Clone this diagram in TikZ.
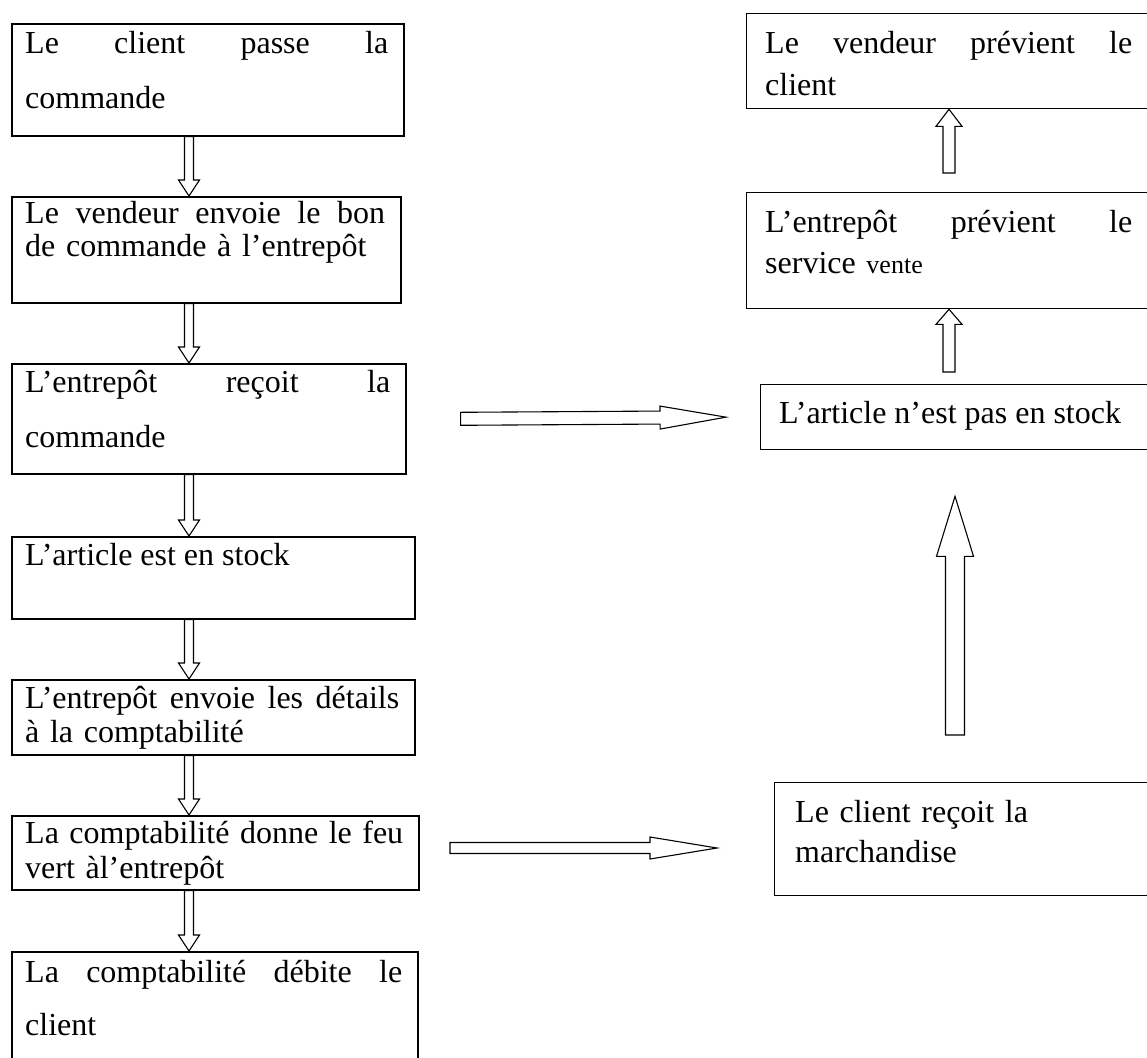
\documentclass[tikz,border=0pt]{standalone}
\usepackage{fontspec}
\setmainfont{Liberation Serif}
\usepackage{tikz}
\usetikzlibrary{calc,positioning}

\tikzset{
   box/.style={draw, rectangle, line width=1.6pt, inner sep=0pt, anchor=north west},
   rbox/.style={box, line width=1.3pt},
   txt/.style={anchor=base west, inner sep=0pt, align=left,
      font=\fontsize{32pt}{#1}\selectfont},
   % hollow block arrow: half shaft, half head, head length
   fat arrow/.style n args={3}{draw, line width=1.1pt, fill=white, line join=miter,
      to path={
         ($(\tikztostart)!#1!90:(\tikztotarget)$)
         -- ($(\tikztotarget)!#3!(\tikztostart)!#1!-90:(\tikztostart)$)
         -- ($(\tikztotarget)!#3!(\tikztostart)!#2!-90:(\tikztostart)$)
         -- (\tikztotarget)
         -- ($(\tikztotarget)!#3!(\tikztostart)!#2!90:(\tikztostart)$)
         -- ($(\tikztotarget)!#3!(\tikztostart)!#1!90:(\tikztostart)$)
         -- ($(\tikztostart)!#1!-90:(\tikztotarget)$)
         -- cycle}}
}

\begin{document}
\begin{tikzpicture}[x=1pt,y=-1pt]
        % Page frame
        \useasboundingbox (0,0) rectangle (1147,1057);
        \clip (0,0) rectangle (1147,1057);

        % Left column
        \node[box, minimum width=392pt, minimum height=112pt] (b1) at (11,23) {};
        \node[box, minimum width=389pt, minimum height=106pt] (b2) at (11,196) {};
        \node[box, minimum width=394pt, minimum height=110pt] (b3) at (11,363) {};
        \node[box, minimum width=403pt, minimum height=82pt] (b4) at (11,536) {};
        \node[box, minimum width=403pt, minimum height=75pt] (b5) at (11,679) {};
        \node[box, minimum width=407pt, minimum height=74pt] (b6) at (11,815) {};
        \node[box, minimum width=406pt, minimum height=150pt] (b7) at (11,951) {};

        \node[txt=55pt, text width=363pt] (t1) at ($(b1.north west)+(14,30)$) {Le\hfill client\hfill passe\hfill la\\commande};
        \node[txt=33pt, text width=360pt] (t2) at ($(b2.north west)+(14,27)$) {Le\hfill vendeur\hfill envoie\hfill le\hfill bon\\de commande à l’entrepôt};
        \node[txt=55pt, text width=365pt] (t3) at ($(b3.north west)+(14,29)$) {L’entrepôt\hfill reçoit\hfill la\\commande};
        \node[txt=34pt] (t4) at ($(b4.north west)+(14,29)$) {L’article est en stock};
        \node[txt=34pt, text width=374pt] (t5) at ($(b5.north west)+(14,29)$) {L’entrepôt\hfill envoie\hfill les\hfill détails\\à la comptabilité};
        \node[txt=35pt, text width=378pt] (t6) at ($(b6.north west)+(14,28)$) {La\hfill comptabilité\hfill donne\hfill le\hfill feu\\vert àl’entrepôt};
        \node[txt=53pt, text width=377pt] (t7) at ($(b7.north west)+(14,31)$) {La\hfill comptabilité\hfill débite\hfill le\\client};

        % Right column
        \node[rbox, minimum width=450pt, minimum height=95pt] (r1) at (746,13) {};
        \node[rbox, minimum width=450pt, minimum height=116pt] (r2) at (746,192) {};
        \node[rbox, minimum width=440pt, minimum height=65pt] (r3) at (760,384) {};
        \node[rbox, minimum width=430pt, minimum height=113pt] (r4) at (774,782) {};

        \node[txt=42pt, text width=367pt] (s1) at ($(r1.north west)+(19,40)$) {Le\hfill vendeur\hfill prévient\hfill le\\client};
        \node[txt=41pt, text width=367pt] (s2) at ($(r2.north west)+(19,40)$) {L’entrepôt\hfill prévient\hfill le\\service {\fontsize{26pt}{41pt}\selectfont vente}};
        \node[txt=40pt] (s3) at ($(r3.north west)+(19,39)$) {L’article n’est pas en stock};
        \node[txt=40pt, text width=340pt] (s4) at ($(r4.north west)+(21,40)$) {Le client reçoit la\\marchandise};

        % Arrow columns
        \coordinate (ldn) at (189,0);
        \coordinate (rup) at (949,0);
        \coordinate (big) at (955,0);
        \coordinate (h2s) at (450,848);
        \coordinate (h2e) at (717,848);

        % Down arrows
        \foreach \u/\v in {b1/b2,b2/b3,b3/b4,b4/b5,b5/b6,b6/b7}
           \draw[fat arrow={4.5pt}{10.5pt}{16pt}] (\u.south -| ldn) to (\v.north -| ldn);

        % Up arrows
        \draw[fat arrow={6pt}{13pt}{17pt}] ([yshift=19pt]r2.north -| rup) to (r1.south -| rup);
        \draw[fat arrow={6pt}{13pt}{15pt}] ([yshift=12pt]r3.north -| rup) to (r2.south -| rup);
        \draw[fat arrow={9.5pt}{18.5pt}{60pt}] ([yshift=47pt]r4.north -| big) to ([yshift=-46pt]r3.south -| big);

        % Side arrows
        \draw[fat arrow={6.5pt}{11.5pt}{66pt}] ([xshift=54pt]b3.east) to ([xshift=-34pt]r3.west);
        \draw[fat arrow={5.5pt}{11pt}{67pt}] (h2s) to (h2e);
\end{tikzpicture}
\end{document}
